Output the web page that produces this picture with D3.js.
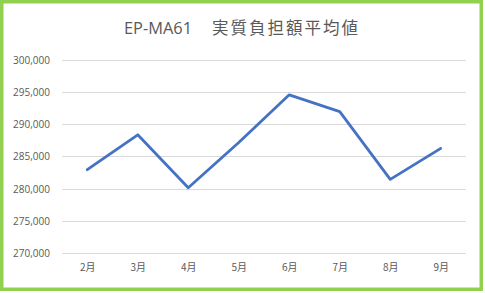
<!DOCTYPE html>
<html><head><meta charset="utf-8">
<script src="https://cdn.jsdelivr.net/npm/d3@7"></script>
<style>html,body{margin:0;padding:0;background:#fff;}svg{display:block;}</style>
</head><body>
<script>
const months = ["2月","3月","4月","5月","6月","7月","8月","9月"];
const values = [283000, 288400, 280200, 287200, 294600, 292000, 281500, 286300];
const yTicks = [270000, 275000, 280000, 285000, 290000, 295000, 300000];
const titleLatin = "EP-MA61";
const titleJa = "実質負担額平均値";

const W = 485, H = 293;
const svg = d3.select("body").append("svg").attr("width", W).attr("height", H);
svg.append("rect").attr("x",1.75).attr("y",1.75).attr("width",479.5).attr("height",287.5)
  .attr("fill","#fff").attr("stroke","#92D050").attr("stroke-width",3.5);

const x = d3.scalePoint().domain(months).range([62, 466]).padding(0.5);
const y = d3.scaleLinear().domain([270000, 300000]).range([253.5, 60]);

svg.append("g").selectAll("line").data(yTicks).enter().append("line")
  .attr("x1",62).attr("x2",466).attr("y1",d=>y(d)).attr("y2",d=>y(d))
  .attr("stroke","#D9D9D9").attr("stroke-width",1).attr("shape-rendering","crispEdges");

const yAxis = d3.axisLeft(y).tickValues(yTicks).tickSize(0).tickPadding(0).tickFormat(d3.format(","));
const ya = svg.append("g").attr("transform","translate(50,0)").call(yAxis);
ya.select(".domain").remove();
ya.selectAll("text").attr("fill","#595959").attr("font-size","10px").attr("font-family","'Open Sans', sans-serif");

const xAxis = d3.axisBottom(x).tickSize(0).tickPadding(0);
const xa = svg.append("g").attr("transform","translate(0,265)").call(xAxis);
xa.select(".domain").remove();
xa.selectAll("text").attr("fill","#595959").attr("font-size","10px").attr("font-family","'Noto Sans CJK JP', sans-serif").attr("dy","0.6em");

const line = d3.line().x((d,i)=>x(months[i])).y(d=>y(d));
svg.append("path").datum(values).attr("d",line).attr("fill","none")
  .attr("stroke","#4472C4").attr("stroke-width",2.8).attr("stroke-linejoin","round").attr("stroke-linecap","round");

const t = svg.append("text").attr("y",33.5).attr("fill","#595959");
t.append("tspan").attr("x",124).attr("font-size","17px").attr("font-family","'Open Sans', sans-serif")
  .attr("textLength",68).attr("lengthAdjust","spacingAndGlyphs").text(titleLatin);
t.append("tspan").attr("x",212).attr("font-size","16.5px").attr("font-family","'Noto Sans CJK JP', sans-serif")
  .attr("textLength",146).attr("lengthAdjust","spacing").text(titleJa);
</script>
</body></html>
